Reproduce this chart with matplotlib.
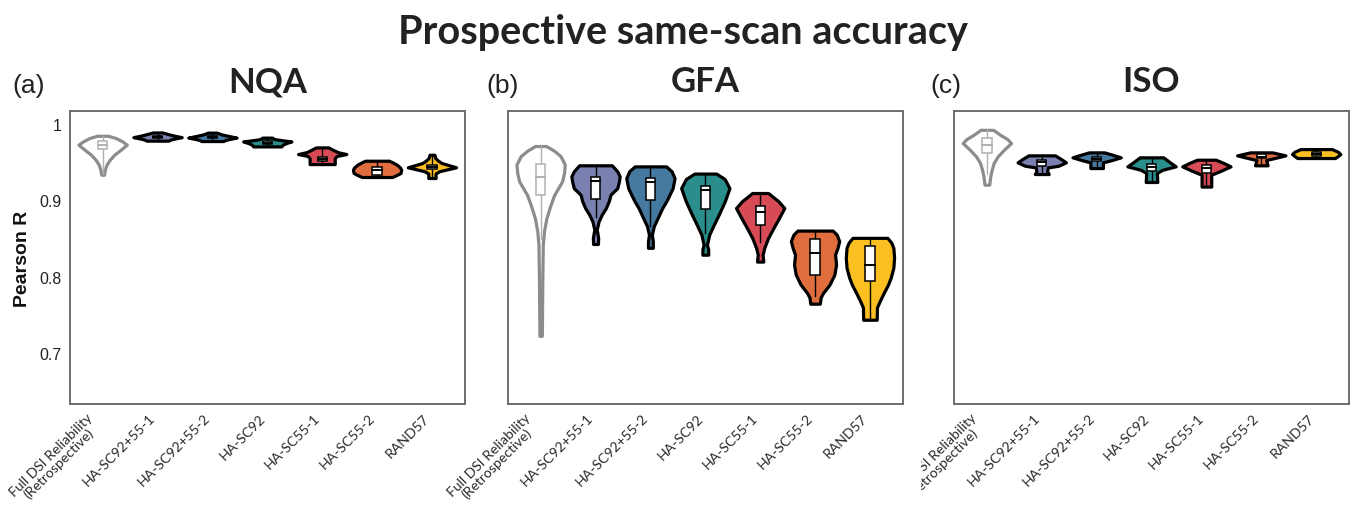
import matplotlib
matplotlib.use('Agg')
import matplotlib.pyplot as plt
from matplotlib.patches import Rectangle
from matplotlib.transforms import Bbox, TransformedBbox

categories = ['Full DSI Reliability\n(Retrospective)', 'HA-SC92+55-1', 'HA-SC92+55-2',
              'HA-SC92', 'HA-SC55-1', 'HA-SC55-2', 'RAND57']
fill_colors = ['white', '#7a81b1', '#46799f', '#2a8f8c', '#d64b55', '#e06d3e', '#fbbf22']
edge_colors = ['#8c8c8c', 'black', 'black', 'black', 'black', 'black', 'black']
box_edges = ['#b0b0b0', 'black', 'black', 'black', 'black', 'black', 'black']
titles = ['NQA', 'GFA', 'ISO']
panel_tags = ['(a)', '(b)', '(c)']

# violin outlines: Pearson R levels (top -> bottom) with relative half-widths
nqa_levels = [
    [0.9844, 0.9814, 0.977, 0.9727, 0.966, 0.9596, 0.953, 0.9466, 0.940, 0.9335],
    [0.9887, 0.9865, 0.9845, 0.9826, 0.981, 0.9795, 0.978],
    [0.9885, 0.986, 0.984, 0.982, 0.9805, 0.979, 0.9775],
    [0.982, 0.980, 0.978, 0.977, 0.975, 0.973, 0.9705],
    [0.9692, 0.966, 0.963, 0.9605, 0.958, 0.955, 0.9474],
    [0.9518, 0.949, 0.9466, 0.943, 0.940, 0.9357, 0.933, 0.9305],
    [0.9596, 0.9553, 0.952, 0.9488, 0.946, 0.9432, 0.941, 0.938, 0.935, 0.9292],
]
nqa_widths = [
    [0.23, 0.55, 0.82, 1.0, 0.74, 0.48, 0.29, 0.16, 0.09, 0.06],
    [0.2, 0.45, 0.7, 1.0, 0.75, 0.55, 0.45],
    [0.18, 0.4, 0.7, 1.0, 0.75, 0.55, 0.45],
    [0.2, 0.3, 0.75, 1.0, 0.8, 0.65, 0.58],
    [0.26, 0.45, 0.65, 1.0, 0.6, 0.52, 0.52],
    [0.5, 0.68, 0.82, 0.95, 1.0, 0.97, 0.8, 0.63],
    [0.1, 0.14, 0.25, 0.4, 0.7, 1.0, 0.7, 0.3, 0.15, 0.15],
]
# whisker low, q1, median, q3, whisker high
nqa_boxes = [
    [0.935, 0.967, 0.972, 0.978, 0.984],
    [0.979, 0.9815, 0.983, 0.9845, 0.988],
    [0.979, 0.981, 0.9825, 0.984, 0.988],
    [0.971, 0.974, 0.9755, 0.977, 0.982],
    [0.948, 0.951, 0.9545, 0.957, 0.968],
    [0.931, 0.9335, 0.9394, 0.944, 0.951],
    [0.930, 0.9405, 0.9435, 0.946, 0.959],
]

gfa_levels = [
    [0.971, 0.965, 0.958, 0.947, 0.936, 0.925, 0.907, 0.894, 0.877, 0.860, 0.842, 0.80, 0.76, 0.723],
    [0.9458, 0.938, 0.9314, 0.925, 0.916, 0.9074, 0.899, 0.890, 0.8814, 0.8727, 0.862, 0.851, 0.843],
    [0.9444, 0.938, 0.929, 0.916, 0.9074, 0.899, 0.890, 0.877, 0.8662, 0.8553, 0.8467, 0.838],
    [0.935, 0.928, 0.916, 0.899, 0.881, 0.868, 0.855, 0.842, 0.836, 0.829],
    [0.9096, 0.904, 0.899, 0.890, 0.877, 0.864, 0.851, 0.838, 0.829, 0.820],
    [0.8605, 0.855, 0.8467, 0.838, 0.829, 0.816, 0.803, 0.790, 0.779, 0.773, 0.765],
    [0.851, 0.845, 0.838, 0.825, 0.812, 0.799, 0.790, 0.781, 0.768, 0.760, 0.744],
]
gfa_widths = [
    [0.23, 0.55, 0.82, 1.0, 0.97, 0.89, 0.56, 0.41, 0.24, 0.14, 0.09, 0.07, 0.06, 0.05],
    [0.68, 0.9, 1.0, 0.97, 0.9, 0.62, 0.55, 0.43, 0.26, 0.13, 0.05, 0.11, 0.1],
    [0.65, 0.88, 1.0, 0.92, 0.79, 0.66, 0.49, 0.3, 0.14, 0.06, 0.1, 0.1],
    [0.45, 0.8, 1.0, 0.81, 0.55, 0.35, 0.16, 0.07, 0.12, 0.12],
    [0.33, 0.55, 0.75, 1.0, 0.78, 0.55, 0.33, 0.17, 0.1, 0.13],
    [0.73, 0.9, 1.0, 0.93, 0.83, 0.87, 0.8, 0.6, 0.33, 0.23, 0.2],
    [0.72, 0.88, 0.97, 1.0, 0.97, 0.86, 0.75, 0.6, 0.4, 0.29, 0.28],
]
gfa_boxes = [
    [0.850, 0.9066, 0.930, 0.9475, 0.971],
    [0.878, 0.902, 0.925, 0.930, 0.9458],
    [0.866, 0.900, 0.924, 0.929, 0.9444],
    [0.858, 0.889, 0.914, 0.919, 0.935],
    [0.846, 0.868, 0.8845, 0.892, 0.9096],
    [0.775, 0.802, 0.831, 0.849, 0.8605],
    [0.746, 0.795, 0.815, 0.840, 0.851],
]

iso_levels = [
    [0.9922, 0.9857, 0.980, 0.9748, 0.966, 0.9575, 0.9488, 0.940, 0.9314, 0.9205],
    [0.9588, 0.954, 0.9497, 0.9453, 0.943, 0.938, 0.9344],
    [0.9627, 0.9592, 0.9562, 0.952, 0.9497, 0.9422],
    [0.9562, 0.950, 0.9444, 0.940, 0.9357, 0.924],
    [0.9531, 0.949, 0.9444, 0.9387, 0.9335, 0.927, 0.918],
    [0.9627, 0.9588, 0.9553, 0.9527, 0.9458],
    [0.967, 0.9635, 0.9605, 0.958, 0.9553],
]
iso_widths = [
    [0.26, 0.55, 0.85, 1.0, 0.7, 0.45, 0.28, 0.2, 0.14, 0.1],
    [0.55, 0.8, 1.0, 0.7, 0.25, 0.22, 0.29],
    [0.32, 0.7, 1.0, 0.55, 0.26, 0.26],
    [0.49, 0.75, 1.0, 0.45, 0.22, 0.24],
    [0.39, 0.7, 1.0, 0.6, 0.2, 0.2, 0.2],
    [0.46, 1.0, 0.55, 0.2, 0.26],
    [0.65, 0.9, 1.0, 0.9, 0.78],
]
iso_boxes = [
    [0.935, 0.9618, 0.9727, 0.9814, 0.9922],
    [0.936, 0.9453, 0.9497, 0.9533, 0.9588],
    [0.943, 0.951, 0.9536, 0.957, 0.9627],
    [0.926, 0.9386, 0.9435, 0.947, 0.9562],
    [0.920, 0.9357, 0.942, 0.9466, 0.9531],
    [0.947, 0.9553, 0.957, 0.960, 0.9627],
    [0.956, 0.958, 0.961, 0.9633, 0.967],
]

panels = [(nqa_levels, nqa_widths, nqa_boxes),
          (gfa_levels, gfa_widths, gfa_boxes),
          (iso_levels, iso_widths, iso_boxes)]

fig = plt.figure(figsize=(13.51, 5.06), dpi=100)
lefts = [0.0516, 0.3758, 0.7061]
axes = [fig.add_axes([l, 0.199, 0.2925, 0.58]) for l in lefts]

box_w = 0.17
for i, (ax, (levels, widths, boxes)) in enumerate(zip(axes, panels)):
    stats = []
    for lv, wd, bx in zip(levels, widths, boxes):
        stats.append({'coords': lv, 'vals': wd, 'mean': bx[2], 'median': bx[2],
                      'min': lv[-1], 'max': lv[0]})
    parts = ax.violin(stats, positions=range(len(categories)), widths=0.88,
                      showextrema=False)
    for body, fc, ec in zip(parts['bodies'], fill_colors, edge_colors):
        body.set_facecolor(fc)
        body.set_edgecolor(ec)
        body.set_linewidth(2.3)
        body.set_alpha(1)
        body.set_joinstyle('round')
    for k, (lo, q1, med, q3, hi) in enumerate(boxes):
        ec = box_edges[k]
        ax.plot([k, k], [lo, hi], color=ec, lw=1.0, zorder=3)
        ax.add_patch(Rectangle((k - box_w / 2, q1), box_w, q3 - q1, facecolor='white',
                               edgecolor=ec, lw=1.1, zorder=4))
        ax.plot([k - box_w / 2, k + box_w / 2], [med, med], color=ec, lw=1.4, zorder=5)

    ax.set_xlim(-0.6, 6.6)
    ax.set_ylim(0.6335, 1.017)
    ax.set_xticks(range(len(categories)))
    ax.set_xticklabels(categories, rotation=45, ha='right',
                       fontsize=10.1, family='Lato', color='#2a2a2a',
                       multialignment='center', linespacing=0.9)
    ax.tick_params(axis='both', length=0)
    ax.tick_params(axis='x', pad=5)
    for sp in ax.spines.values():
        sp.set_color('#6e6e6e')
        sp.set_linewidth(1.4)
    ax.set_title(titles[i], fontsize=25, fontweight='bold', family='Lato', pad=14,
                 color='#222222')
    if i == 0:
        ax.set_yticks([0.7, 0.8, 0.9, 1.0])
        ax.set_yticklabels(['0.7', '0.8', '0.9', '1'], fontsize=11.4,
                           family='Liberation Sans', color='#222222')
        ax.tick_params(axis='y', pad=6)
        ax.set_ylabel('Pearson R', fontsize=14, fontweight='bold',
                      family='Liberation Sans', labelpad=6, color='#111111')
    else:
        ax.set_yticks([])

tag_x = [12, 486, 930]
for tx, tag in zip(tag_x, panel_tags):
    fig.text(tx / 1351, 1 - 93 / 506, tag, fontsize=19, family='Liberation Sans',
             color='#222222', va='baseline')

fig.text(683 / 1351, 1 - 44 / 506, 'Prospective same-scan accuracy', fontsize=28.5,
         fontweight='bold', family='Lato', ha='center', va='baseline', color='#222222')

# the first ISO label is cut at the panel's left edge
clip = TransformedBbox(Bbox([[921 / 1351, 0], [1, 1]]), fig.transFigure)
first = axes[2].get_xticklabels()[0]
first.set_clip_box(clip)
first.set_clip_on(True)

fig.savefig('out.png', dpi=100)
